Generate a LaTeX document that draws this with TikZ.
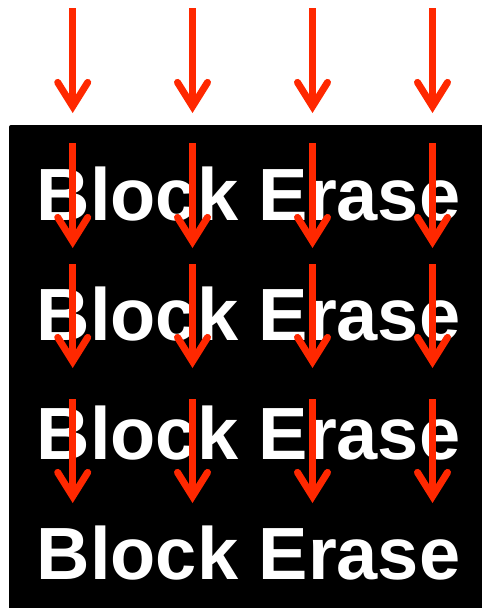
\documentclass[tikz,border=0pt]{standalone}
\usepackage{fontspec}
\setmainfont{Liberation Sans}
\usepackage{tikz}
\usetikzlibrary{arrows.meta}
\usepackage{xcolor}
\definecolor{erasered}{RGB}{255,40,0}

\begin{document}
\begin{tikzpicture}[x=1pt, y=-1pt,
  every node/.style={font=\fontsize{74}{80}\selectfont\bfseries, text=white, inner sep=0pt},
  erasearrow/.style={draw=erasered, line width=7pt, -{Straight Barb[length=24pt, width=30pt, line cap=round, line join=miter]}}]
\useasboundingbox (0,0) rectangle (482,608);
% black panel
\fill[black] (9,610) [rounded corners=2pt] -- (9,125) -- (484,125) [sharp corners] -- (484,610) -- cycle;
% the four rows of text
\foreach \r/\yb in {1/220,2/340,3/459,4/579}
  \node[anchor=base] (row\r) at (248.5,\yb) {Block Erase};
% red arrows
\foreach \r/\ys/\ye in {1/8/113,2/143/248,3/264/368,4/399/503}
  \foreach \c/\xc in {1/72.7,2/192.5,3/312.5,4/432.5} {
    \coordinate (s\r\c) at (\xc,\ys);
    \coordinate (e\r\c) at (\xc,\ye);
    \draw[erasearrow] (s\r\c) -- (e\r\c);
  }
\end{tikzpicture}
\end{document}
